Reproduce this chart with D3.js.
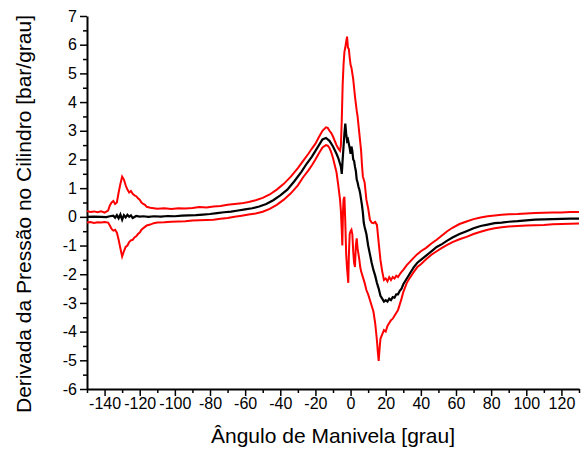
<!DOCTYPE html>
<html><head><meta charset="utf-8">
<script src="https://cdn.jsdelivr.net/npm/d3@7"></script>
<style>
body{margin:0;background:#fff;}
svg{display:block;}
text{font-family:"Liberation Sans",Arial,sans-serif;fill:#000;}
</style></head>
<body>
<svg id="c" width="582" height="454"></svg>
<script>
// ---- data ----
const xTicks = [-140,-120,-100,-80,-60,-40,-20,0,20,40,60,80,100,120];
const yTicks = [-6,-5,-4,-3,-2,-1,0,1,2,3,4,5,6,7];
const xTitle = "Ângulo de Manivela [grau]";
const yTitle = "Derivada da Pressão no Cilindro [bar/grau]";

const angMean = [-150,-146,-142,-139,-137,-135,-134,-133,-132,-131,-130,-129,-128,-127,-126,-125,-124,-122,-120,-118,-115,-112,-108,-104,-100,-96,-92,-88,-84,-80,-76,-72,-68,-64,-60,-56,-52,-48,-44,-40,-36,-32,-28,-25,-22,-20,-18,-16,-14,-12,-10,-8,-7,-6,-5.5,-5,-4.5,-4,-3.5,-3,-2.5,-2,-1.5,-1,-0.5,0,0.5,1,1.5,2,2.5,3,3.5,4,4.5,5,5.5,6,6.5,7,7.5,8,9,10,11,12,13,14,15,16,17,18,19,20,21,22,23,24,25,26,27,28,29,30,32,34,36,38,40,43,46,49,52,55,58,62,66,70,74,78,82,86,90,95,100,105,110,115,120,125,130];
const valMean = [0.0,0.01,0.0,-0.01,0.02,0.04,-0.03,0.06,-0.05,0.08,-0.1,0.06,-0.02,0.07,0.0,0.05,-0.04,0.03,0.01,0.02,0.0,0.02,0.01,0.03,0.02,0.04,0.05,0.06,0.08,0.1,0.13,0.16,0.18,0.22,0.26,0.3,0.36,0.45,0.58,0.75,0.95,1.24,1.57,1.85,2.1,2.3,2.5,2.7,2.75,2.65,2.45,2.2,2.05,1.85,1.75,1.5,2.0,2.45,2.9,3.25,2.9,2.65,2.7,2.55,2.4,2.2,2.45,2.3,2.0,1.95,1.75,1.6,1.3,1.2,1.05,0.95,0.8,0.6,0.4,0.15,-0.2,-0.35,-0.6,-1.0,-1.3,-1.6,-1.85,-2.05,-2.3,-2.5,-2.75,-2.85,-2.95,-2.9,-2.95,-2.85,-2.9,-2.8,-2.82,-2.7,-2.7,-2.58,-2.5,-2.35,-2.15,-1.95,-1.75,-1.6,-1.5,-1.35,-1.2,-1.05,-0.95,-0.83,-0.72,-0.6,-0.5,-0.4,-0.32,-0.27,-0.22,-0.2,-0.17,-0.15,-0.12,-0.1,-0.09,-0.08,-0.07,-0.06,-0.06];

const angUpper = [-150,-148,-146,-144,-142,-140,-138,-137,-136,-135,-134,-133,-132,-131,-130,-129,-128,-127,-126,-125,-124,-123,-122,-121,-120,-119,-118,-117,-116,-114,-112,-110,-106,-102,-98,-94,-90,-86,-82,-78,-74,-70,-66,-62,-58,-54,-50,-46,-42,-38,-34,-30,-27,-24,-22,-20,-18,-16,-14,-13,-12,-11,-10,-9,-8,-7,-6,-5.5,-5,-4.5,-4,-3.5,-3,-2.5,-2,-1.5,-1,-0.5,0,0.5,1,1.5,2,2.5,3,3.5,4,4.5,5,5.5,6,6.5,7,7.5,8,8.5,9,10,11,12,13,14,15,16,17,18,19,20,21,22,23,24,25,26,27,28,29,30,32,34,36,38,40,43,46,49,52,55,58,62,66,70,74,78,82,86,90,95,100,105,110,115,120,125,130];
const valUpper = [0.2,0.17,0.19,0.16,0.19,0.15,0.22,0.4,0.5,0.55,0.45,0.5,0.85,1.15,1.4,1.3,1.1,0.95,0.85,0.9,0.8,0.75,0.72,0.65,0.6,0.5,0.45,0.42,0.35,0.32,0.3,0.28,0.3,0.27,0.3,0.29,0.31,0.34,0.33,0.36,0.38,0.42,0.45,0.47,0.52,0.58,0.66,0.78,0.95,1.15,1.4,1.7,1.95,2.2,2.38,2.55,2.78,3.0,3.12,3.1,3.0,2.92,2.8,2.65,2.5,2.38,2.3,2.5,3.4,4.6,5.3,5.75,5.9,6.1,6.28,5.9,5.85,5.55,5.3,5.2,5.0,4.8,4.5,4.2,3.95,3.7,3.5,3.2,2.9,2.6,2.3,1.8,1.4,1.3,1.2,0.9,0.6,0.3,-0.1,-0.2,-0.22,-0.18,-0.28,-0.9,-1.5,-1.9,-2.2,-2.15,-2.25,-2.1,-2.2,-2.1,-2.15,-2.05,-2.1,-2.0,-1.92,-1.85,-1.68,-1.55,-1.42,-1.3,-1.2,-1.08,-0.93,-0.8,-0.65,-0.5,-0.38,-0.25,-0.16,-0.08,-0.02,0.02,0.05,0.07,0.09,0.1,0.12,0.13,0.14,0.15,0.15,0.17,0.17];

const angLower = [-150,-148,-146,-144,-142,-140,-138,-137,-136,-135,-134,-133,-132,-131,-130,-129,-128,-127,-126,-125,-124,-123,-122,-121,-120,-119,-118,-117,-116,-114,-112,-110,-106,-102,-98,-94,-90,-86,-82,-78,-74,-70,-66,-62,-58,-54,-50,-46,-42,-38,-34,-30,-27,-24,-22,-20,-18,-16,-14,-13,-12,-11,-10,-9,-8,-7,-6,-5.5,-5,-4.7,-4.3,-4,-3.5,-3,-2.5,-2,-1.3,-1,-0.5,0,0.5,1,1.5,2,2.5,3,3.5,4,4.5,5,5.5,6,7,8,9,10,11,12,13,14,15,15.5,16,16.5,17,18,19,20,21,22,23,24,25,26,27,28,29,30,32,34,36,38,40,43,46,49,52,55,58,62,66,70,74,78,82,86,90,95,100,105,110,115,120,125,130];
const valLower = [-0.2,-0.18,-0.21,-0.19,-0.2,-0.18,-0.2,-0.3,-0.42,-0.48,-0.45,-0.55,-0.8,-1.1,-1.38,-1.2,-1.05,-1.0,-0.88,-0.82,-0.8,-0.72,-0.68,-0.6,-0.55,-0.45,-0.4,-0.35,-0.3,-0.27,-0.22,-0.2,-0.19,-0.17,-0.16,-0.15,-0.13,-0.12,-0.11,-0.1,-0.07,-0.04,0.0,0.04,0.08,0.12,0.18,0.28,0.42,0.6,0.82,1.1,1.38,1.62,1.8,2.0,2.22,2.42,2.5,2.48,2.4,2.25,2.05,1.8,1.55,1.1,0.6,0.2,-0.5,-1.0,0.2,0.6,0.7,-0.2,-1.3,-1.8,-2.3,-1.4,-0.6,-0.5,-0.45,-0.6,-1.2,-1.6,-1.75,-1.0,-0.75,-1.1,-1.3,-1.5,-1.75,-1.9,-2.1,-2.3,-2.55,-2.7,-2.9,-3.1,-3.3,-3.7,-4.3,-4.7,-5.02,-4.6,-4.25,-4.1,-3.95,-4.0,-3.8,-3.7,-3.6,-3.55,-3.45,-3.35,-3.25,-3.05,-2.85,-2.62,-2.3,-2.1,-1.92,-1.75,-1.65,-1.48,-1.32,-1.2,-1.08,-0.98,-0.88,-0.78,-0.7,-0.6,-0.52,-0.45,-0.4,-0.36,-0.34,-0.32,-0.3,-0.29,-0.28,-0.26,-0.25,-0.24,-0.23];

// ---- layout ----
const svg = d3.select("#c");
const L = 87, R = 579, T = 16, B = 389;
const x = d3.scaleLinear().domain([-150,130]).range([L,R]);
const y = d3.scaleLinear().domain([-6,7]).range([B,T]);

const g = svg.append("g");

// minor ticks
const xMinor = d3.range(-150,131,10).filter(v => !xTicks.includes(v));
const yMinor = d3.range(-5.5,7,1);

const xAxisMinor = svg.append("g").attr("transform",`translate(0,${B})`)
  .call(d3.axisBottom(x).tickValues(xMinor).tickSize(4).tickFormat(""));
const yAxisMinor = svg.append("g").attr("transform",`translate(${L},0)`)
  .call(d3.axisLeft(y).tickValues(yMinor).tickSize(4).tickFormat(""));
[xAxisMinor,yAxisMinor].forEach(a=>{a.select(".domain").remove(); a.selectAll("line").attr("stroke-width",1.5);});

const xAxis = svg.append("g").attr("transform",`translate(0,${B})`)
  .call(d3.axisBottom(x).tickValues(xTicks).tickSize(7).tickSizeOuter(0).tickPadding(2).tickFormat(d=>String(d)));
const yAxis = svg.append("g").attr("transform",`translate(${L},0)`)
  .call(d3.axisLeft(y).tickValues(yTicks).tickSize(7).tickSizeOuter(0).tickPadding(3).tickFormat(d=>String(d)));
[xAxis,yAxis].forEach(a=>{
  a.select(".domain").attr("stroke-width",2);
  a.selectAll(".tick line").attr("stroke-width",1.5);
  a.selectAll("text").style("font-size","16px").style("font-family","'Liberation Sans',Arial,sans-serif");
});

// lines
const mk = (angs, vals) => angs.map((a,i)=>[a,vals[i]]);
const line = d3.line().x(d=>x(d[0])).y(d=>y(d[1]));
const plot = svg.append("g");
plot.append("path").datum(mk(angUpper,valUpper)).attr("d",line)
  .attr("fill","none").attr("stroke","#ff0000").attr("stroke-width",2);
plot.append("path").datum(mk(angLower,valLower)).attr("d",line)
  .attr("fill","none").attr("stroke","#ff0000").attr("stroke-width",2);
plot.append("path").datum(mk(angMean,valMean)).attr("d",line)
  .attr("fill","none").attr("stroke","#000").attr("stroke-width",2.2);

// titles
svg.append("text").attr("x",(L+R)/2).attr("y",443).attr("text-anchor","middle")
  .style("font-size","21px").text(xTitle);
svg.append("text").attr("transform",`translate(31,${214}) rotate(-90)`).attr("text-anchor","middle")
  .style("font-size","21px").text(yTitle);
</script>
</body></html>
